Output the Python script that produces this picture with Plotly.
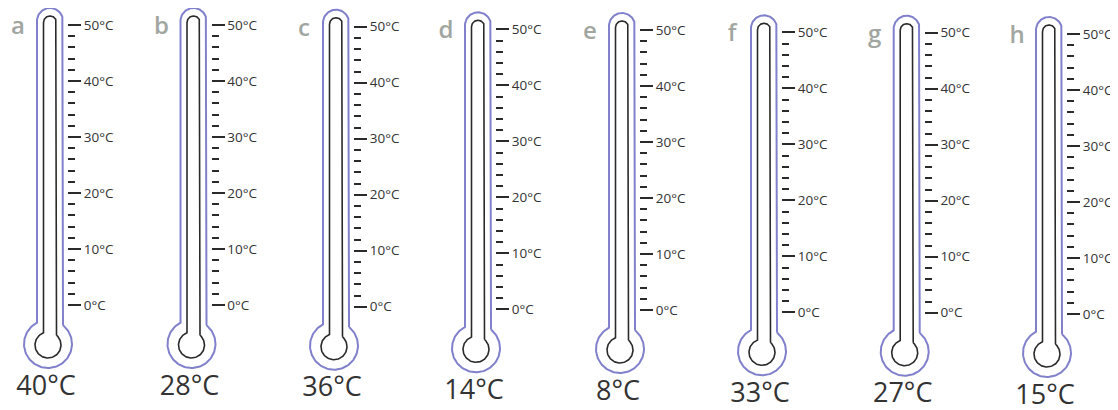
import numpy as np
import plotly.graph_objects as go

# ---- data ----
labels = ["a", "b", "c", "d", "e", "f", "g", "h"]
temps = [40, 28, 36, 14, 8, 33, 27, 15]
major_ticks = [0, 10, 20, 30, 40, 50]
minor_ticks = [2, 4, 6, 8, 12, 14, 16, 18, 22, 24, 26, 28, 32, 34, 36, 38, 42, 44, 46, 48]
unit = "°C"
tick_text = [f"{v}{unit}" for v in major_ticks]

# ---- layout constants (pixels) ----
W, H = 1118, 410
PAGE_OFFSET = 8  # default body margin of the html page
centers = [50, 193.5, 336, 478, 622, 764, 906.7, 1049]
zero_y = [305, 305, 306.7, 309.3, 310, 312.3, 312.7, 314]
PX = 5.6  # pixels per degree
Y_LOW, Y_HIGH = -17, 54
X_RANGE = [-45, 28]

PURPLE = "#8080cc"
DARK = "#2a2a2a"
FONT = "Open Sans"


def arc(cx, cy, r, a0, a1, n=60):
    t = np.radians(np.linspace(a0, a1, n))
    return cx + r * np.cos(t), cy + r * np.sin(t)


def outline(half_w, top_cy, bulb_cx, bulb_cy, bulb_r):
    # points in pixel offsets (y downward)
    dxr = half_w - bulb_cx
    dxl = -half_w - bulb_cx
    yr = bulb_cy - np.sqrt(bulb_r ** 2 - dxr ** 2)
    yl = bulb_cy - np.sqrt(bulb_r ** 2 - dxl ** 2)
    phr = np.degrees(np.arctan2(yr - bulb_cy, dxr))
    phl = np.degrees(np.arctan2(yl - bulb_cy, dxl)) % 360
    xs, ys = [half_w], [yr]
    ax, ay = arc(0, top_cy, half_w, 0, -180)
    xs += list(ax); ys += list(ay)
    xs += [-half_w]; ys += [yl]
    bx, by = arc(bulb_cx, bulb_cy, bulb_r, phl, phr, 120)
    xs += list(bx); ys += list(by)
    return np.array(xs), -np.array(ys) / PX


fig = go.Figure()
layout = dict(
    width=W, height=H, margin=dict(l=0, r=0, t=0, b=0, autoexpand=False),
    paper_bgcolor="white", plot_bgcolor="rgba(0,0,0,0)", showlegend=False,
)

ox, oy = outline(13, -284, -2, 39, 24)
ix, iy = outline(6.5, -282.5, -2, 40, 13)

for i, (lab, t) in enumerate(zip(labels, temps)):
    n = i + 1
    xa, ya = f"x{n}", f"y{n}"
    cx = centers[i] - PAGE_OFFSET
    y0 = zero_y[i] - PAGE_OFFSET
    y_high = min(Y_HIGH, y0 / PX)
    bottom_px = y0 - Y_LOW * PX
    top_px = y0 - y_high * PX
    layout[f"xaxis{n}"] = dict(
        domain=[max(0, (cx + X_RANGE[0]) / W), (cx + X_RANGE[1]) / W],
        range=[max(X_RANGE[0], -cx), X_RANGE[1]], visible=False, fixedrange=True,
        anchor=ya, automargin=False,
    )
    layout[f"yaxis{n}"] = dict(
        domain=[max(0, 1 - bottom_px / H), min(1, 1 - top_px / H)],
        range=[Y_LOW, y_high], anchor="free", position=(cx + 17) / W, side="right",
        showgrid=False, zeroline=False, showline=False, fixedrange=True, automargin=False,
        tickmode="array", tickvals=major_ticks, ticktext=tick_text,
        ticks="outside", ticklen=13, tickwidth=2.2, tickcolor=DARK,
        tickfont=dict(family=FONT, size=13.5, color="#333333"),
        minor=dict(tickmode="array", tickvals=minor_ticks, ticks="outside",
                   ticklen=7, tickwidth=2.2, tickcolor=DARK),
    )
    fig.add_trace(go.Scatter(x=ox, y=oy, mode="lines", xaxis=xa, yaxis=ya,
                             line=dict(color=PURPLE, width=2), hoverinfo="skip"))
    fig.add_trace(go.Scatter(x=ix, y=iy, mode="lines", xaxis=xa, yaxis=ya,
                             line=dict(color=DARK, width=1.6), hoverinfo="skip"))
    fig.add_trace(go.Scatter(x=[-4], y=[-83 / PX], mode="text", xaxis=xa, yaxis=ya,
                             text=[f"{t}{unit}"], textposition="middle center",
                             textfont=dict(family=FONT, size=27, color="#333333"),
                             cliponaxis=False, hoverinfo="skip"))
    fig.add_trace(go.Scatter(x=[-32], y=[50 - 3 / PX], mode="text", xaxis=xa, yaxis=ya,
                             text=[lab], textposition="middle center",
                             textfont=dict(family=FONT, size=24, color="#a1a6a1", weight=600),
                             cliponaxis=False, hoverinfo="skip"))

fig.update_layout(**layout)
fig.write_html("out.html")
